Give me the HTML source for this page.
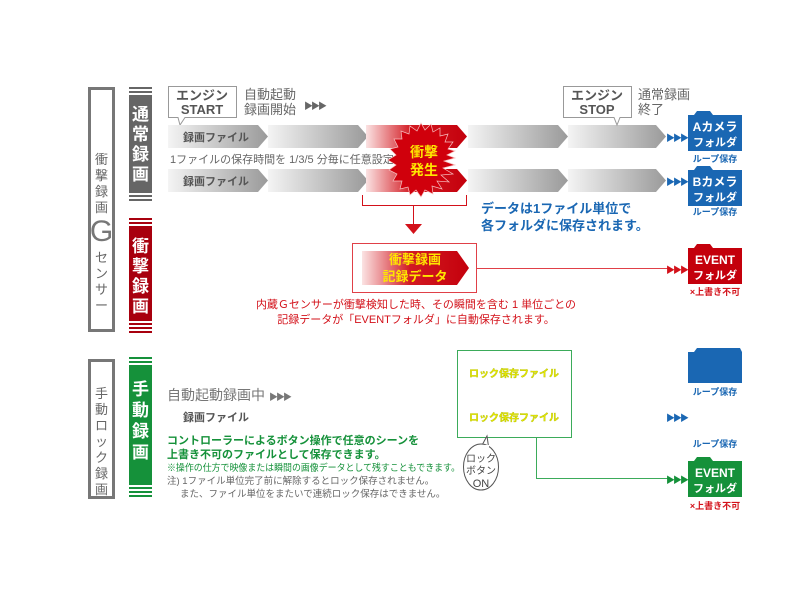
<!DOCTYPE html>
<html><head><meta charset="utf-8">
<style>
body{margin:0;background:#fff;}
svg{display:block;font-family:"Liberation Sans","Noto Sans CJK JP",sans-serif;}
</style></head><body>
<svg width="800" height="600" viewBox="0 0 800 600" xmlns="http://www.w3.org/2000/svg">
<defs>
<linearGradient id="gg" x1="0" x2="1"><stop offset="0" stop-color="#f4f4f4"/><stop offset="1" stop-color="#9a9a9a"/></linearGradient>
<linearGradient id="rg" x1="0" x2="1"><stop offset="0" stop-color="#fbe3e3"/><stop offset="0.45" stop-color="#d21a22"/><stop offset="1" stop-color="#c4000c"/></linearGradient>
</defs>
<rect x="89.5" y="88.5" width="24" height="242" fill="#fff" stroke="#777" stroke-width="3"/>
<text font-size="13" fill="#666" text-anchor="middle">
<tspan x="101.5" y="164">衝</tspan><tspan x="101.5" y="180">撃</tspan><tspan x="101.5" y="196">録</tspan><tspan x="101.5" y="212">画</tspan></text>
<text x="101.5" y="241" font-size="30" fill="#777" text-anchor="middle">G</text>
<text font-size="13" fill="#666" text-anchor="middle"><tspan x="101.5" y="262">セ</tspan><tspan x="101.5" y="278">ン</tspan><tspan x="101.5" y="294">サ</tspan><tspan x="101.5" y="310">ー</tspan></text>
<rect x="89.5" y="360.5" width="24" height="137" fill="#fff" stroke="#777" stroke-width="3"/>
<text font-size="13" fill="#666" text-anchor="middle"><tspan x="101.5" y="398">手</tspan><tspan x="101.5" y="414">動</tspan><tspan x="101.5" y="430">ロ</tspan><tspan x="101.5" y="446">ッ</tspan><tspan x="101.5" y="462">ク</tspan><tspan x="101.5" y="478">録</tspan><tspan x="101.5" y="494">画</tspan></text>
<g fill="#666"><rect x="129" y="87" width="23" height="2"/><rect x="129" y="91" width="23" height="2"/><rect x="129" y="95" width="23" height="98"/><rect x="129" y="195" width="23" height="2"/><rect x="129" y="199" width="23" height="2"/></g>
<text font-size="17" fill="#fff" text-anchor="middle" font-weight="bold"><tspan x="140.5" y="120">通</tspan><tspan x="140.5" y="140">常</tspan><tspan x="140.5" y="160">録</tspan><tspan x="140.5" y="180">画</tspan></text>
<g fill="#a8000e"><rect x="129" y="218" width="23" height="2"/><rect x="129" y="222" width="23" height="2"/><rect x="129" y="226" width="23" height="95"/><rect x="129" y="323" width="23" height="2"/><rect x="129" y="327" width="23" height="2"/><rect x="129" y="331" width="23" height="2"/></g>
<text font-size="17" fill="#fff" text-anchor="middle" font-weight="bold"><tspan x="140.5" y="252">衝</tspan><tspan x="140.5" y="272">撃</tspan><tspan x="140.5" y="292">録</tspan><tspan x="140.5" y="312">画</tspan></text>
<g fill="#15913a"><rect x="129" y="357" width="23" height="2"/><rect x="129" y="361" width="23" height="2"/><rect x="129" y="365" width="23" height="120"/><rect x="129" y="487" width="23" height="2"/><rect x="129" y="491" width="23" height="2"/><rect x="129" y="495" width="23" height="2"/></g>
<text font-size="17" fill="#fff" text-anchor="middle" font-weight="bold"><tspan x="140.5" y="395">手</tspan><tspan x="140.5" y="416">動</tspan><tspan x="140.5" y="437">録</tspan><tspan x="140.5" y="458">画</tspan></text>

<path d="M168.5 86.5H236.5V117.5H185L180 125L178 117.5H168.5Z" fill="#fff" stroke="#999"/>
<text x="202" y="100" font-size="13" font-weight="bold" fill="#555" text-anchor="middle">エンジン</text>
<text x="202" y="114" font-size="13" font-weight="bold" fill="#555" text-anchor="middle">START</text>
<text x="244" y="99" font-size="13" fill="#666">自動起動</text>
<text x="244" y="114" font-size="13" fill="#666">録画開始</text>
<text x="304" y="109" font-size="9" fill="#666" letter-spacing="-2">▶▶▶</text>

<g id="r1">
<path d="M168 125H258L268 136.5L258 148H168Z" fill="url(#gg)"/>
<path d="M268 125H358L368 136.5L358 148H268L268 125Z" fill="url(#gg)"/>
<path d="M366 125H457L467 136.5L457 148H366Z" fill="url(#rg)"/>
<path d="M468 125H558L568 136.5L558 148H468Z" fill="url(#gg)"/>
<path d="M568 125H656L666 136.5L656 148H568Z" fill="url(#gg)"/>
</g>
<use href="#r1" transform="translate(0,44)"/>
<text x="183" y="141" font-size="11" font-weight="bold" fill="#555">録画ファイル</text>
<text x="183" y="185" font-size="11" font-weight="bold" fill="#555">録画ファイル</text>
<text x="170" y="163" font-size="11" fill="#666">1ファイルの保存時間を 1/3/5 分毎に任意設定</text>

<polygon fill="#d0000c" stroke="#f7c0c0" stroke-width="0.7" points="
455,158 444,161 455,165 443,168 453,174 441,175 449,182 437,181 442,189 432,186 433,194 425,190 421,197 416,190 410,195 408,187 400,189 402,181 393,181 397,174 389,170 396,165 388,160 396,155 390,149 398,147 394,139 402,139 401,131 409,134 410,126 417,131 421,123 425,130 431,124 433,132 440,128 440,136 448,134 445,142 453,142 448,149 455,151 447,155"/>
<text x="424" y="157" font-size="14" font-weight="bold" fill="#ffe600" text-anchor="middle">衝撃</text>
<text x="424" y="175" font-size="14" font-weight="bold" fill="#ffe600" text-anchor="middle">発生</text>

<path d="M563.5 86.5H631.5V117.5H620L617 125L614 117.5H563.5Z" fill="#fff" stroke="#999"/>
<text x="597" y="100" font-size="13" font-weight="bold" fill="#555" text-anchor="middle">エンジン</text>
<text x="597" y="114" font-size="13" font-weight="bold" fill="#555" text-anchor="middle">STOP</text>
<text x="638" y="99" font-size="13" fill="#666">通常録画</text>
<text x="638" y="114" font-size="13" fill="#666">終了</text>

<text x="666" y="141" font-size="9" fill="#1a67b3" letter-spacing="-2">▶▶▶</text>
<text x="666" y="185" font-size="9" fill="#1a67b3" letter-spacing="-2">▶▶▶</text>
<path d="M688 115H694L697 111H710L713 115H742V151H688Z" fill="#1a67b3"/>
<text x="715" y="131" font-size="12" font-weight="bold" fill="#fff" text-anchor="middle">Aカメラ</text>
<text x="715" y="146" font-size="11" font-weight="bold" fill="#fff" text-anchor="middle">フォルダ</text>
<text x="715" y="162" font-size="9" font-weight="bold" fill="#1a67b3" text-anchor="middle">ループ保存</text>
<path d="M688 170H694L697 166H710L713 170H742V206H688Z" fill="#1a67b3"/>
<text x="715" y="186" font-size="12" font-weight="bold" fill="#fff" text-anchor="middle">Bカメラ</text>
<text x="715" y="201" font-size="11" font-weight="bold" fill="#fff" text-anchor="middle">フォルダ</text>
<text x="715" y="215" font-size="9" font-weight="bold" fill="#1a67b3" text-anchor="middle">ループ保存</text>

<text x="481" y="213" font-size="13" font-weight="bold" fill="#1a67b3">データは1ファイル単位で</text>
<text x="481" y="230" font-size="13" font-weight="bold" fill="#1a67b3">各フォルダに保存されます。</text>

<path d="M362.5 195V205.5H466.5V195" fill="none" stroke="#d3111a"/>
<line x1="413.5" y1="205" x2="413.5" y2="225" stroke="#d3111a"/>
<polygon points="405,224 422,224 413.5,234" fill="#d3111a"/>

<rect x="352.5" y="243.5" width="124" height="49" fill="#fff" stroke="#e04048"/>
<path d="M362 251H457L469 268L457 285H362Z" fill="url(#rg)"/>
<text x="415" y="264" font-size="13" font-weight="bold" fill="#ffe600" text-anchor="middle">衝撃録画</text>
<text x="415" y="281" font-size="13" font-weight="bold" fill="#ffe600" text-anchor="middle">記録データ</text>
<line x1="476" y1="268.5" x2="670" y2="268.5" stroke="#e04048"/>
<text x="666" y="273" font-size="9" fill="#d3111a" letter-spacing="-2">▶▶▶</text>
<path d="M688 248H694L697 244H710L713 248H742V284H688Z" fill="#c4000c"/>
<text x="715" y="264" font-size="12" font-weight="bold" fill="#fff" text-anchor="middle">EVENT</text>
<text x="715" y="279" font-size="11" font-weight="bold" fill="#fff" text-anchor="middle">フォルダ</text>
<text x="715" y="295" font-size="9" font-weight="bold" fill="#d3111a" text-anchor="middle">×上書き不可</text>

<text x="416" y="308" font-size="11" fill="#d3111a" text-anchor="middle">内蔵Ｇセンサーが衝撃検知した時、その瞬間を含む 1 単位ごとの</text>
<text x="416" y="323" font-size="11" fill="#d3111a" text-anchor="middle">記録データが「EVENTフォルダ」に自動保存されます。</text>

<text x="167" y="400" font-size="14" fill="#777">自動起動録画中</text>
<text x="269" y="400" font-size="9" fill="#777" letter-spacing="-2">▶▶▶</text>
<text x="183" y="421" font-size="11" font-weight="bold" fill="#555">録画ファイル</text>
<text x="167" y="444" font-size="11" font-weight="bold" fill="#15913a">コントローラーによるボタン操作で任意のシーンを</text>
<text x="167" y="458" font-size="11" font-weight="bold" fill="#15913a">上書き不可のファイルとして保存できます。</text>
<text x="167" y="471" font-size="9.5" fill="#15913a" textLength="293" lengthAdjust="spacingAndGlyphs">※操作の仕方で映像または瞬間の画像データとして残すこともできます。</text>
<text x="167" y="484" font-size="9.5" fill="#666">注) 1ファイル単位完了前に解除するとロック保存されません。</text>
<text x="180" y="497" font-size="9.5" fill="#666">また、ファイル単位をまたいで連続ロック保存はできません。</text>

<rect x="457.5" y="350.5" width="114" height="87" fill="#fff" stroke="#3bab5a"/>
<text x="514" y="377" font-size="10" font-weight="bold" fill="#e6e600" stroke="#a8b800" stroke-width="0.3" text-anchor="middle">ロック保存ファイル</text>
<text x="514" y="421" font-size="10" font-weight="bold" fill="#e6e600" stroke="#a8b800" stroke-width="0.3" text-anchor="middle">ロック保存ファイル</text>
<polyline points="536.5,438 536.5,478.5 668,478.5" fill="none" stroke="#3bab5a"/>
<path d="M480 449 L487 436 L489 450" fill="#fff" stroke="#555"/>
<ellipse cx="481" cy="467" rx="17.5" ry="23" fill="#fff" stroke="#555"/>
<rect x="480" y="445" width="9" height="5" fill="#fff"/>
<text x="481" y="462" font-size="10" fill="#444" text-anchor="middle">ロック</text>
<text x="481" y="474" font-size="10" fill="#444" text-anchor="middle">ボタン</text>
<text x="481" y="487" font-size="11" fill="#444" text-anchor="middle">ON</text>

<path d="M688 352H694L697 348H740L742 352V383H688Z" fill="#1a67b3"/>
<text x="715" y="395" font-size="9" font-weight="bold" fill="#1a67b3" text-anchor="middle">ループ保存</text>
<text x="666" y="421" font-size="9" fill="#1a67b3" letter-spacing="-2">▶▶▶</text>
<text x="715" y="447" font-size="9" font-weight="bold" fill="#1a67b3" text-anchor="middle">ループ保存</text>
<text x="666" y="483" font-size="9" fill="#15913a" letter-spacing="-2">▶▶▶</text>
<path d="M688 461H694L697 457H710L713 461H742V497H688Z" fill="#15913a"/>
<text x="715" y="477" font-size="12" font-weight="bold" fill="#fff" text-anchor="middle">EVENT</text>
<text x="715" y="492" font-size="11" font-weight="bold" fill="#fff" text-anchor="middle">フォルダ</text>
<text x="715" y="509" font-size="9" font-weight="bold" fill="#d3111a" text-anchor="middle">×上書き不可</text>
</svg>
</body></html>
